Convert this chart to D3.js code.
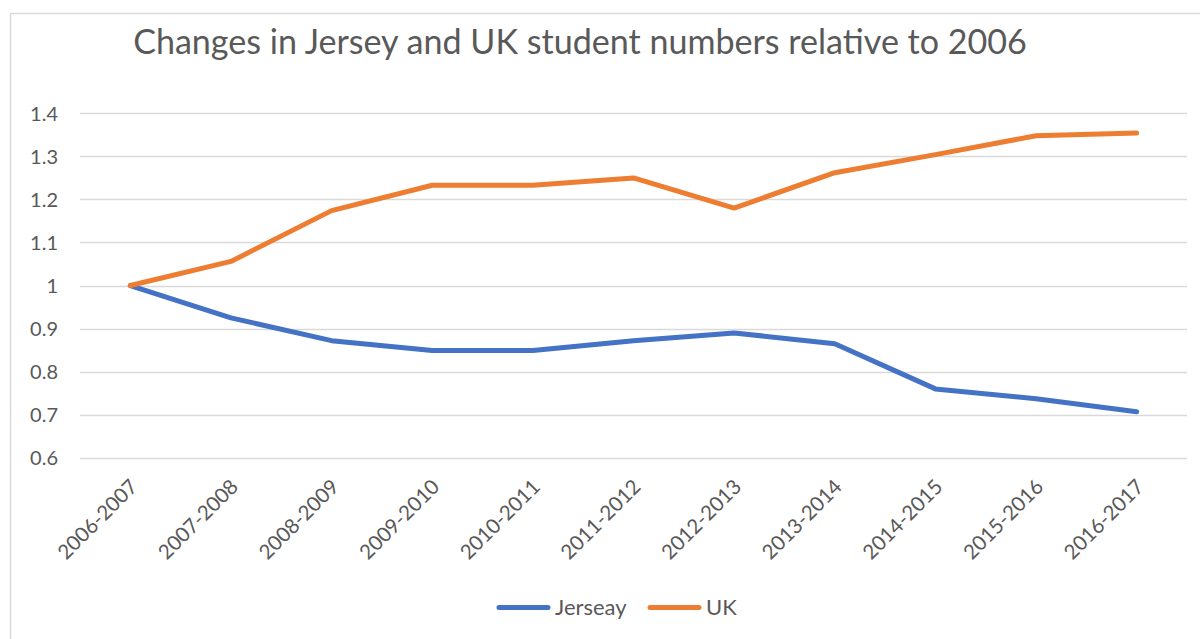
<!DOCTYPE html>
<html>
<head>
<meta charset="utf-8">
<script src="https://cdn.jsdelivr.net/npm/d3@7"></script>
<style>
  html, body { margin: 0; padding: 0; background: #fff; }
  svg { display: block; }
  text { font-family: Lato, "Open Sans", sans-serif; fill: #595959; }
</style>
</head>
<body>
<svg id="chart" width="1200" height="639"></svg>
<script>
const title = "Changes in Jersey and UK student numbers relative to 2006";
const categories = ["2006-2007","2007-2008","2008-2009","2009-2010","2010-2011","2011-2012","2012-2013","2013-2014","2014-2015","2015-2016","2016-2017"];
const jerseyValues = [1.0, 0.925, 0.872, 0.849, 0.849, 0.872, 0.89, 0.865, 0.76, 0.737, 0.707];
const ukValues = [1.0, 1.056, 1.174, 1.233, 1.233, 1.25, 1.18, 1.262, 1.304, 1.348, 1.354];
const yTicks = [0.6, 0.7, 0.8, 0.9, 1.0, 1.1, 1.2, 1.3, 1.4];
const seriesNames = ["Jerseay", "UK"];
const seriesColors = ["#4472C4", "#ED7D31"];

const svg = d3.select("#chart");

// chart border
svg.append("rect")
  .attr("x", 10.5).attr("y", 13.5).attr("width", 1250).attr("height", 700)
  .attr("fill", "none").attr("stroke", "#d9d9d9").attr("stroke-width", 1.5);

const x = d3.scalePoint().domain(categories).range([80, 1187]).padding(0.5);
const y = d3.scaleLinear().domain([0.6, 1.4]).range([457.8, 113.3]);

// gridlines
svg.append("g").selectAll("line").data(yTicks).join("line")
  .attr("x1", 80).attr("x2", 1187)
  .attr("y1", d => Math.round(y(d)) + 0.5).attr("y2", d => Math.round(y(d)) + 0.5)
  .attr("stroke", "#d9d9d9").attr("stroke-width", 1.3);

// y axis labels
const yAxis = d3.axisLeft(y).tickValues(yTicks).tickSize(0).tickPadding(0)
  .tickFormat(d => d === 1 ? "1" : d3.format(".1f")(d));
const gy = svg.append("g").attr("transform", "translate(58,0)").call(yAxis);
gy.select(".domain").remove();
gy.selectAll("text").attr("font-size", 20).attr("fill", "#595959")
  .style("font-family", "Lato, 'Open Sans', sans-serif").attr("dy", "0.35em");

// x axis labels
const xAxis = d3.axisBottom(x).tickSize(0).tickPadding(0);
const gx = svg.append("g").attr("transform", "translate(0,458)").call(xAxis);
gx.select(".domain").remove();
gx.selectAll("text")
  .attr("font-size", 20.5).attr("fill", "#595959")
  .style("font-family", "Lato, 'Open Sans', sans-serif")
  .attr("text-anchor", "end")
  .attr("dy", 0).attr("y", 0)
  .attr("transform", "translate(8,30) rotate(-45)");

// lines
const line = d3.line().x((d, i) => x(categories[i])).y(d => y(d));
[jerseyValues, ukValues].forEach((vals, k) => {
  svg.append("path").datum(vals)
    .attr("d", line)
    .attr("fill", "none")
    .attr("stroke", seriesColors[k])
    .attr("stroke-width", 5)
    .attr("stroke-linejoin", "round")
    .attr("stroke-linecap", "round");
});

// title
const t = svg.append("text").text(title)
  .attr("x", 580).attr("y", 54).attr("text-anchor", "middle")
  .attr("font-size", 30).style("font-weight", 400);
const w = t.node().getComputedTextLength();
t.attr("font-size", 30 * 894 / w);

// legend
const legendX = [497, 648];
const legend = svg.append("g");
seriesNames.forEach((name, k) => {
  legend.append("line")
    .attr("x1", legendX[k] + 2).attr("x2", legendX[k] + 51)
    .attr("y1", 607.5).attr("y2", 607.5)
    .attr("stroke", seriesColors[k]).attr("stroke-width", 5)
    .attr("stroke-linecap", "round");
  legend.append("text").text(name)
    .attr("x", legendX[k] + 58).attr("y", 615)
    .attr("font-size", 22);
});
</script>
</body>
</html>
